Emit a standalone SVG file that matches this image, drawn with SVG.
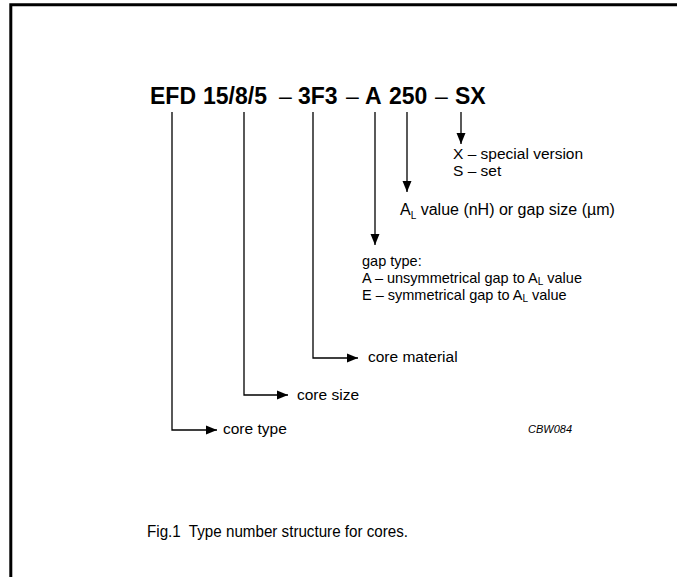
<svg xmlns="http://www.w3.org/2000/svg" width="677" height="577" viewBox="0 0 677 577">
<style>
text{font-family:"Liberation Sans",Arial,sans-serif;fill:#000}
.title{font-size:23px;font-weight:bold}
.dash{font-weight:normal}
.lbl{font-size:15.5px}
.gap{font-size:14.5px}
.al{font-size:16px}
.sub{font-size:10px}
.code{font-size:11px;font-style:italic}
.cap{font-size:16px;white-space:pre}
.conn{fill:none;stroke:#000;stroke-width:1.3}
.frame{fill:none;stroke:#000;stroke-width:3}
</style>
<defs>
<marker id="arr" markerUnits="userSpaceOnUse" markerWidth="12" markerHeight="10" viewBox="0 0 12 10" refX="11" refY="5" orient="auto">
<path d="M0,0.5 L11,5 L0,9.5 Z" fill="#000"/>
</marker>
</defs>
<rect width="677" height="577" fill="#fff"/>
<g id="frame">
<path class="frame" d="M10.8,577 V4.8 H677"/>
</g>
<g id="title">
<text class="title" y="104"><tspan x="150">EFD</tspan><tspan x="203">15/8/5</tspan><tspan class="dash" x="279">–</tspan><tspan x="298">3F3</tspan><tspan class="dash" x="346">–</tspan><tspan x="365">A</tspan><tspan x="389">250</tspan><tspan class="dash" x="435">–</tspan><tspan x="455">SX</tspan></text>
</g>
<g id="connectors">
<path class="conn" d="M172,112 V430 H217" marker-end="url(#arr)"/>
<path class="conn" d="M244,112 V395 H288" marker-end="url(#arr)"/>
<path class="conn" d="M313,112 V358 H358" marker-end="url(#arr)"/>
<path class="conn" d="M375,112 V245" marker-end="url(#arr)"/>
<path class="conn" d="M407,112 V192" marker-end="url(#arr)"/>
<path class="conn" d="M461,112 V144" marker-end="url(#arr)"/>
</g>
<g id="suffix">
<text class="lbl" x="453" y="159">X – special version</text>
<text class="lbl" x="453" y="176">S – set</text>
</g>
<g id="al-value">
<text class="al" x="400" y="215">A<tspan class="sub" dy="4">L</tspan><tspan dy="-4"> value (nH) or gap size (µm)</tspan></text>
</g>
<g id="gap-type">
<text class="gap" x="362" y="266">gap type:</text>
<text class="gap" x="362" y="283">A – unsymmetrical gap to A<tspan class="sub" dy="2">L</tspan><tspan dy="-2"> value</tspan></text>
<text class="gap" x="362" y="300">E – symmetrical gap to A<tspan class="sub" dy="2">L</tspan><tspan dy="-2"> value</tspan></text>
</g>
<g id="core-material">
<text class="lbl" x="368" y="362">core material</text>
</g>
<g id="core-size">
<text class="lbl" x="297" y="400">core size</text>
</g>
<g id="core-type">
<text class="lbl" x="223" y="434">core type</text>
</g>
<g id="code">
<text class="code" x="528" y="433">CBW084</text>
</g>
<g id="caption">
<text class="cap" x="147" y="537" textLength="261" lengthAdjust="spacingAndGlyphs" xml:space="preserve">Fig.1  Type number structure for cores.</text>
</g>
</svg>
